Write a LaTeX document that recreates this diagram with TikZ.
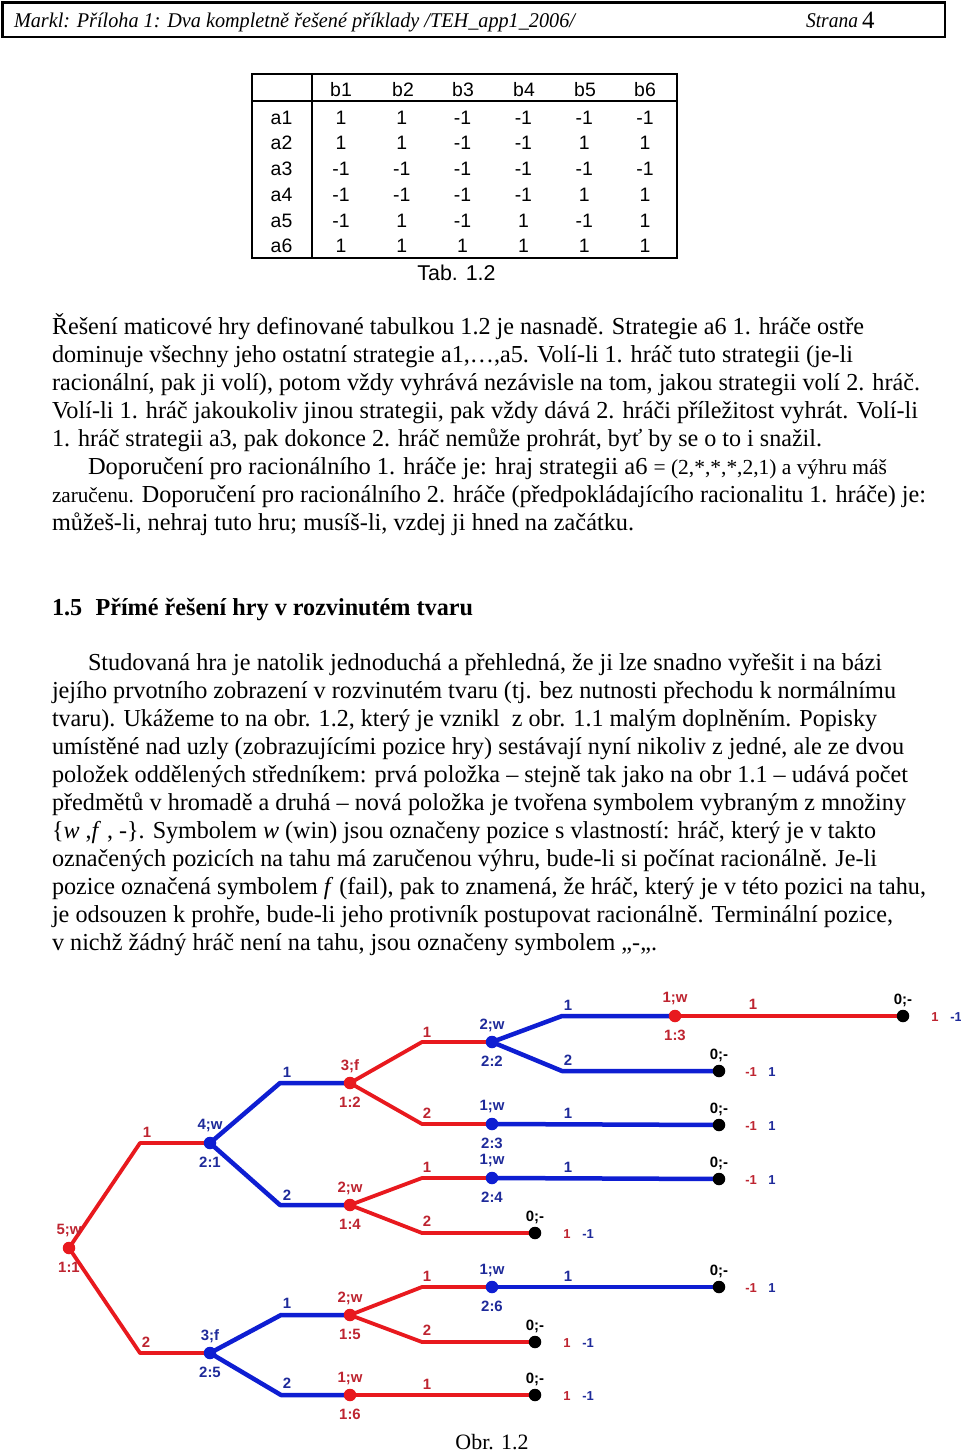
\documentclass[tikz,border=0pt]{standalone}
\usepackage{fontspec}
\setmainfont{Liberation Serif}
\newfontfamily\sansf{Liberation Sans}
\usepackage{graphicx}
\pgfdeclarelayer{bgl}
\pgfdeclarelayer{edges}
\pgfsetlayers{bgl,edges,main}
\definecolor{lred}{HTML}{E8191E}
\definecolor{lblue}{HTML}{0E1ED2}
\definecolor{tred}{HTML}{BE2430}
\definecolor{tblue}{HTML}{1E2A9A}
\newlength\fitw
\newcommand\fitline[2]{\settowidth\fitw{#2}\pgfmathsetmacro\fitr{#1/\fitw}\scalebox{\fitr}[1]{#2}}
\tikzset{
  body/.style={anchor=base west, inner sep=0, outer sep=0, font=\fontsize{24.5}{24.5}\selectfont},
  tcell/.style={anchor=base, inner sep=0, font=\sansf\fontsize{19.5}{19.5}\selectfont},
  rl/.style={draw=lred, line width=3.8bp, line join=round, line cap=round},
  bl/.style={draw=lblue, line width=4.5bp, line join=round, line cap=round},
  rdot/.style={circle, fill=lred, inner sep=0, minimum size=12.5bp},
  bdot/.style={circle, fill=lblue, inner sep=0, minimum size=12.5bp},
  tdot/.style={circle, fill=black, inner sep=0, minimum size=12.5bp},
  glab/.style={inner sep=0, font=\sansf\bfseries\fontsize{15}{15}\selectfont},
  rlab/.style={glab, text=tred},
  blab/.style={glab, text=tblue},
  klab/.style={glab, text=black},
  plab/.style={inner sep=0, font=\sansf\bfseries\fontsize{13}{13}\selectfont},
}
\newcommand\gnode[7]{%
  \node[#2] (#1) at (#3,#4) {};
  \node[#7] (#1t) at (#3,#4-17) {#5};
  \node[#7] (#1b) at (#3,#4+19) {#6};
}
\newcommand\tnode[5]{%
  \node[tdot] (#1) at (#2,#3) {};
  \node[klab] (#1t) at (#2,#3-16) {0;-};
  \node[plab, text=tred] (#1r) at (#2+32,#3+1) {#4};
  \node[plab, text=tblue] (#1q) at (#2+53,#3+1) {#5};
}
\begin{document}
\begin{tikzpicture}[x=1bp,y=-1bp]
\useasboundingbox (0,0) rectangle (960,1453);
\begin{pgfonlayer}{bgl}
\fill[white] (0,0) rectangle (960,1453);
\end{pgfonlayer}
% header
\draw[line width=2.5bp] (2.5,2.5) rectangle (945,37);
\node[body, font=\itshape\fontsize{21}{21}\selectfont] (hd) at (14,28) {\fitline{561bp}{Markl: Příloha 1: Dva kompletně řešené příklady /TEH\_app1\_2006/}};
\node[body, font=\itshape\fontsize{21}{21}\selectfont] (hs) at (806,28) {\fitline{52bp}{Strana}};
\node[body, font=\fontsize{25}{25}\selectfont] (hn) at (862,29) {4};
% table
\draw[line width=2bp] (251.5,74.5) rectangle (676.5,258);
\draw[line width=2bp] (251.5,101) -- (676.5,101);
\draw[line width=2bp] (312,74.5) -- (312,258);
\foreach \c/\x in {1/341,2/403,3/463,4/524,5/585,6/645}
  \node[tcell] (hb\c) at (\x,96.5) {b\c};
\foreach \r/\y/\vals in {1/124.3/{1,1,-1,-1,-1,-1},2/150/{1,1,-1,-1,1,1},3/175.8/{-1,-1,-1,-1,-1,-1},4/201.6/{-1,-1,-1,-1,1,1},5/227/{-1,1,-1,1,-1,1},6/252.7/{1,1,1,1,1,1}}{
  \node[tcell] (ra\r) at (281.5,\y) {a\r};
  \foreach \v [count=\c] in \vals {
    \pgfmathsetmacro\xx{341+(\c-1)*60.8}
    \node[tcell] (v\r\c) at (\xx,\y) {\v};
  }
}
\node[tcell, font=\sansf\fontsize{21.5}{21.5}\selectfont] (tab) at (456.5,280) {Tab. 1.2};
% paragraph 1
\node[body] (p1) at (52,334) {\fitline{812bp}{Řešení maticové hry definované tabulkou 1.2 je nasnadě. Strategie a6 1. hráče ostře}};
\node[body] (p2) at (52,362) {\fitline{801bp}{dominuje všechny jeho ostatní strategie a1,…,a5. Volí-li 1. hráč tuto strategii (je-li}};
\node[body] (p3) at (52,390) {\fitline{868bp}{racionální, pak ji volí), potom vždy vyhrává nezávisle na tom, jakou strategii volí 2. hráč.}};
\node[body] (p4) at (52,418) {\fitline{866bp}{Volí-li 1. hráč jakoukoliv jinou strategii, pak vždy dává 2. hráči příležitost vyhrát. Volí-li}};
\node[body] (p5) at (52,446) {\fitline{770bp}{1. hráč strategii a3, pak dokonce 2. hráč nemůže prohrát, byť by se o to i snažil.}};
\node[body] (p6) at (88,474) {\fitline{799bp}{Doporučení pro racionálního 1. hráče je: hraj strategii a6 {\fontsize{21.5}{21.5}\selectfont = (2,*,*,*,2,1) a výhru máš}}};
\node[body] (p7) at (52,502) {\fitline{874bp}{{\fontsize{21.5}{21.5}\selectfont zaručenu.} Doporučení pro racionálního 2. hráče (předpokládajícího racionalitu 1. hráče) je:}};
\node[body] (p8) at (52,530) {\fitline{582bp}{můžeš-li, nehraj tuto hru; musíš-li, vzdej ji hned na začátku.}};
% heading
\node[body, font=\bfseries\fontsize{24.5}{24.5}\selectfont] (h15) at (52,615) {\fitline{421bp}{1.5\hspace{0.55em}Přímé řešení hry v rozvinutém tvaru}};
% paragraph 2
\node[body] (q1) at (88,670) {\fitline{794bp}{Studovaná hra je natolik jednoduchá a přehledná, že ji lze snadno vyřešit i na bázi}};
\node[body] (q2) at (52,698) {\fitline{844bp}{jejího prvotního zobrazení v rozvinutém tvaru (tj. bez nutnosti přechodu k normálnímu}};
\node[body] (q3) at (52,726) {\fitline{825bp}{tvaru). Ukážeme to na obr. 1.2, který je vznikl\ \ z obr. 1.1 malým doplněním. Popisky}};
\node[body] (q4) at (52,754) {\fitline{852bp}{umístěné nad uzly (zobrazujícími pozice hry) sestávají nyní nikoliv z jedné, ale ze dvou}};
\node[body] (q5) at (52,782) {\fitline{856bp}{položek oddělených středníkem: prvá položka – stejně tak jako na obr 1.1 – udává počet}};
\node[body] (q6) at (52,810) {\fitline{854bp}{předmětů v hromadě a druhá – nová položka je tvořena symbolem vybraným z množiny}};
\node[body] (q7) at (52,838) {\fitline{824bp}{\{\textit{w} ,\textit{f} , -\}. Symbolem \textit{w} (win) jsou označeny pozice s vlastností: hráč, který je v takto}};
\node[body] (q8) at (52,866) {\fitline{825bp}{označených pozicích na tahu má zaručenou výhru, bude-li si počínat racionálně. Je-li}};
\node[body] (q9) at (52,894) {\fitline{874bp}{pozice označená symbolem \textit{f} (fail), pak to znamená, že hráč, který je v této pozici na tahu,}};
\node[body] (q10) at (52,922) {\fitline{841bp}{je odsouzen k prohře, bude-li jeho protivník postupovat racionálně. Terminální pozice,}};
\node[body] (q11) at (52,950) {\fitline{605bp}{v nichž žádný hráč není na tahu, jsou označeny symbolem „-„.}};
% tree nodes
\gnode{n11}{rdot}{69}{1248}{5;w}{1:1}{rlab}
\gnode{n21}{bdot}{210}{1143}{4;w}{2:1}{blab}
\gnode{n25}{bdot}{210}{1353}{3;f}{2:5}{blab}
\gnode{n12}{rdot}{350}{1083}{3;f}{1:2}{rlab}
\gnode{n14}{rdot}{350}{1205}{2;w}{1:4}{rlab}
\gnode{n15}{rdot}{350}{1315}{2;w}{1:5}{rlab}
\gnode{n16}{rdot}{350}{1395}{1;w}{1:6}{rlab}
\gnode{n22}{bdot}{492}{1042}{2;w}{2:2}{blab}
\gnode{n23}{bdot}{492}{1124}{1;w}{2:3}{blab}
\gnode{n24}{bdot}{492}{1178}{1;w}{2:4}{blab}
\gnode{n26}{bdot}{492}{1287}{1;w}{2:6}{blab}
\gnode{n13}{rdot}{675}{1016}{1;w}{1:3}{rlab}
\tnode{t1}{903}{1016}{1}{-1}
\tnode{t2}{719}{1071}{-1}{1}
\tnode{t3}{719}{1125}{-1}{1}
\tnode{t4}{719}{1179}{-1}{1}
\tnode{t5}{535}{1233}{1}{-1}
\tnode{t6}{719}{1287}{-1}{1}
\tnode{t7}{535}{1342}{1}{-1}
\tnode{t8}{535}{1395}{1}{-1}
% kinks
\coordinate (k1) at (140,1143);
\coordinate (k2) at (140,1353);
\coordinate (k3) at (280,1083);
\coordinate (k4) at (280,1205);
\coordinate (k5) at (422,1042);
\coordinate (k6) at (422,1124);
\coordinate (k7) at (562,1016);
\coordinate (k8) at (562,1071);
\coordinate (k9) at (422,1178);
\coordinate (k10) at (422,1233);
\coordinate (k11) at (281,1315);
\coordinate (k12) at (281,1395);
\coordinate (k13) at (422,1287);
\coordinate (k14) at (422,1342);
\begin{pgfonlayer}{edges}
\draw[rl] (n11.center) -- (k1) -- (n21.center);
\draw[rl] (n11.center) -- (k2) -- (n25.center);
\draw[bl] (n21.center) -- (k3) -- (n12.center);
\draw[bl] (n21.center) -- (k4) -- (n14.center);
\draw[rl] (n12.center) -- (k5) -- (n22.center);
\draw[rl] (n12.center) -- (k6) -- (n23.center);
\draw[bl] (n22.center) -- (k7) -- (n13.center);
\draw[bl] (n22.center) -- (k8) -- (t2.center);
\draw[rl] (n13.center) -- (t1.center);
\draw[bl] (n23.center) -- (t3.center);
\draw[rl] (n14.center) -- (k9) -- (n24.center);
\draw[rl] (n14.center) -- (k10) -- (t5.center);
\draw[bl] (n24.center) -- (t4.center);
\draw[bl] (n25.center) -- (k11) -- (n15.center);
\draw[bl] (n25.center) -- (k12) -- (n16.center);
\draw[rl] (n15.center) -- (k13) -- (n26.center);
\draw[rl] (n15.center) -- (k14) -- (t7.center);
\draw[bl] (n26.center) -- (t6.center);
\draw[rl] (n16.center) -- (t8.center);
\end{pgfonlayer}
% branch labels
\node[rlab] (e1) at (147,1132) {1};
\node[rlab] (e2) at (146,1342) {2};
\node[blab] (e3) at (287,1072) {1};
\node[blab] (e4) at (287,1195) {2};
\node[rlab] (e5) at (427,1032) {1};
\node[rlab] (e6) at (427,1113) {2};
\node[blab] (e7) at (568,1005) {1};
\node[blab] (e8) at (568,1060) {2};
\node[rlab] (e9) at (753,1004) {1};
\node[blab] (e10) at (568,1113) {1};
\node[rlab] (e11) at (427,1167) {1};
\node[rlab] (e12) at (427,1221) {2};
\node[blab] (e13) at (568,1167) {1};
\node[blab] (e14) at (287,1303) {1};
\node[blab] (e15) at (287,1383) {2};
\node[rlab] (e16) at (427,1276) {1};
\node[rlab] (e17) at (427,1330) {2};
\node[blab] (e18) at (568,1276) {1};
\node[rlab] (e19) at (427,1384) {1};
% caption
\node[anchor=base, inner sep=0, font=\fontsize{22}{22}\selectfont] (obr) at (492,1449) {Obr. 1.2};
\end{tikzpicture}
\end{document}
